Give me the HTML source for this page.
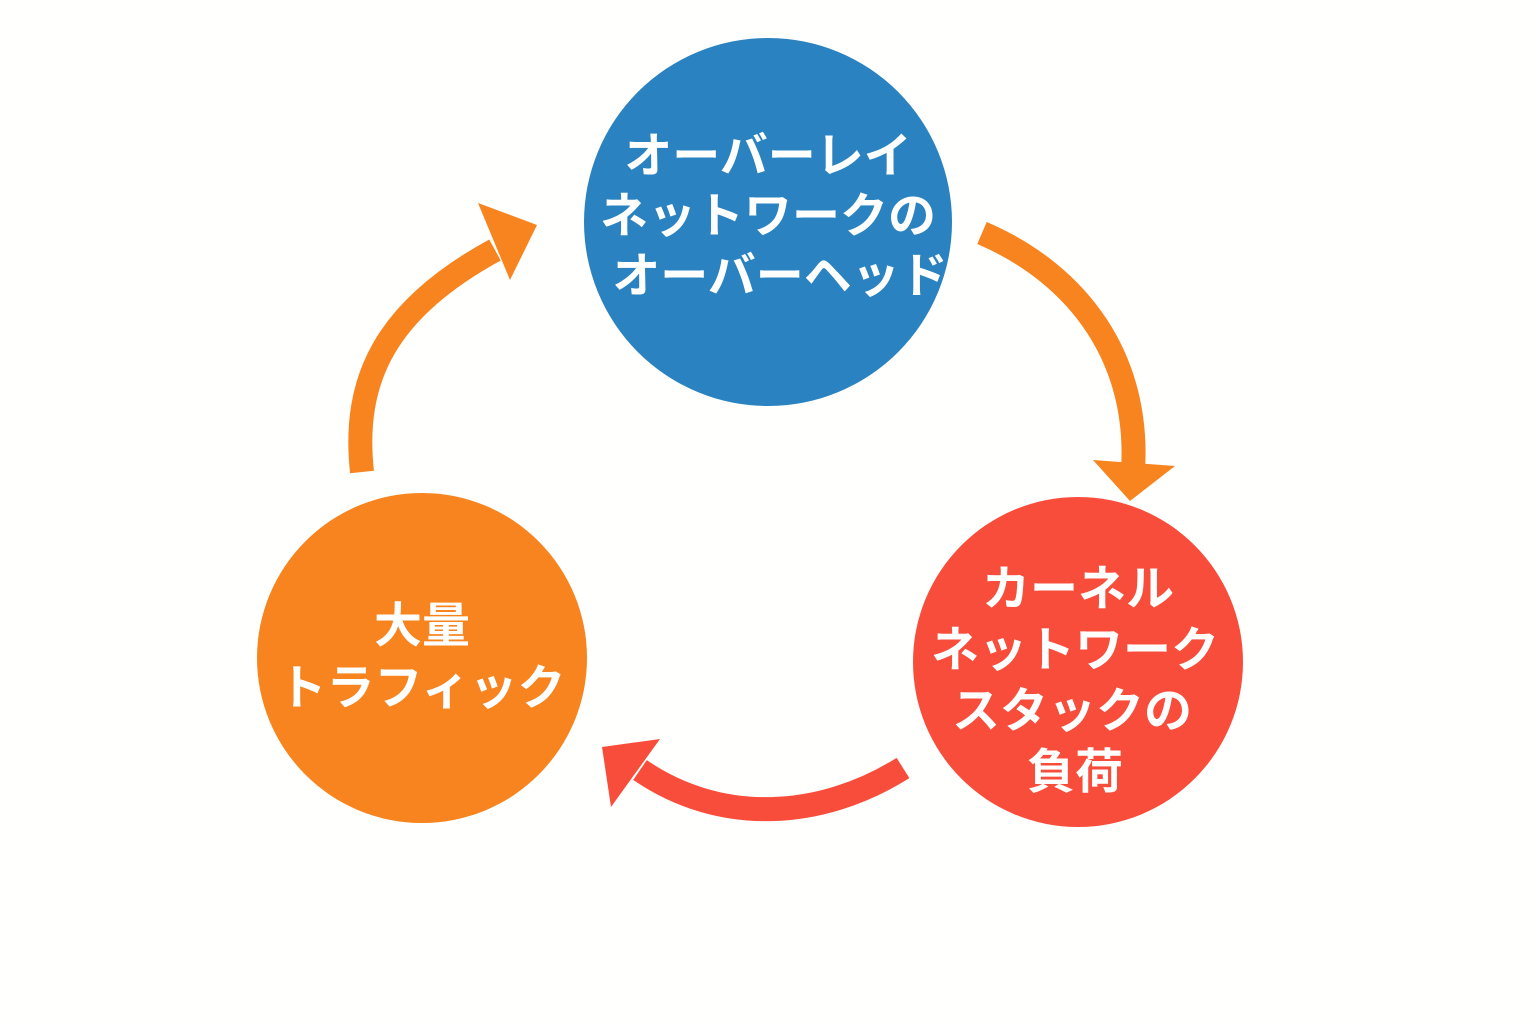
<!DOCTYPE html>
<html><head><meta charset="utf-8"><style>
html,body{margin:0;padding:0;background:#fffffd;}
svg{display:block}
text{font-family:"Liberation Sans","Noto Sans CJK JP",sans-serif;font-weight:bold;fill:#fff;text-anchor:middle;}
</style></head><body>
<svg width="1536" height="1024" viewBox="0 0 1536 1024">
<rect width="1536" height="1024" fill="#fffffd"/>
<!-- arrows -->
<path d="M362,472 C352,380 385,310 495,250" fill="none" stroke="#f7841e" stroke-width="24"/>
<polygon points="537,225 478,203 510,280" fill="#f7841e"/>
<path d="M982,233 C1080,275 1140,360 1133,470" fill="none" stroke="#f7841e" stroke-width="24"/>
<polygon points="1093,460 1175,466 1130,501" fill="#f7841e"/>
<path d="M903,768 C820,820 720,825 640,770" fill="none" stroke="#f94d3c" stroke-width="24"/>
<polygon points="602,747 660,739 611,807" fill="#f94d3c"/>
<!-- circles -->
<circle cx="768" cy="222" r="184" fill="#2a83c0"/>
<circle cx="422" cy="658" r="165" fill="#f7841e"/>
<circle cx="1078" cy="662" r="165" fill="#f94d3c"/>
<!-- text -->
<g font-size="48">
<text x="768" y="172">オーバーレイ</text>
<text x="768" y="232">ネットワークの</text>
<text x="780" y="292">オーバーヘッド</text>
<text x="422" y="642">大量</text>
<text x="422" y="704">トラフィック</text>
<text x="1078" y="605">カーネル</text>
<text x="1075" y="666">ネットワーク</text>
<text x="1072" y="727">スタックの</text>
<text x="1075" y="788">負荷</text>
</g>
</svg>
</body></html>
